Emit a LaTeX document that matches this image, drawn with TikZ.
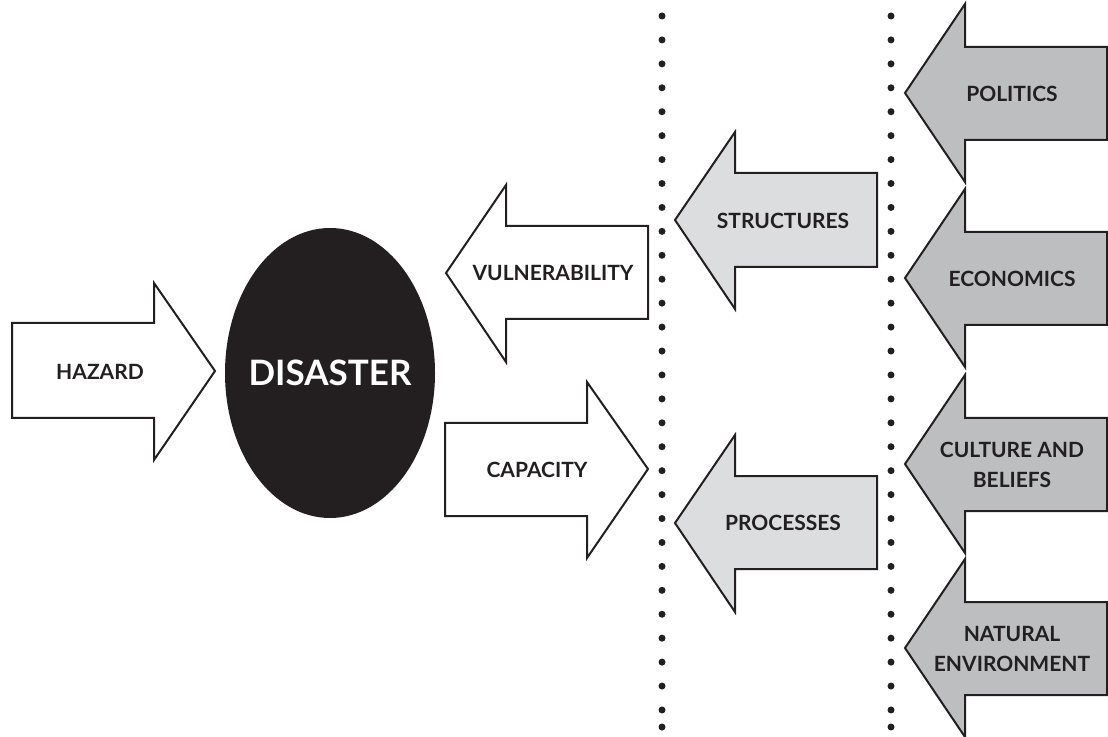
\documentclass[tikz,border=0pt]{standalone}
\usepackage{fontspec}
\setmainfont{Lato}
\usetikzlibrary{shapes.geometric}
\definecolor{ink}{HTML}{231F20}
\definecolor{lightgrey}{HTML}{DCDDDF}
\definecolor{midgrey}{HTML}{BCBEC0}

\begin{document}
\begin{tikzpicture}[x=0.5pt, y=-0.5pt,
blockarrow/.style={draw=ink, line width=1pt, line join=miter},
whitearrow/.style={blockarrow, fill=white},
innerarrow/.style={blockarrow, fill=lightgrey},
outerarrow/.style={blockarrow, fill=midgrey},
caption/.style={text=ink, font=\bfseries\fontsize{10.5}{15}\selectfont, align=center, inner sep=0pt},
dot/.style={fill=ink}
]
\useasboundingbox (0,0) rectangle (1108,737);

% dotted dividers
\foreach \col in {662, 891} {
  \foreach \i in {0,...,29}
    \fill[dot] (\col,16+23.93*\i) circle[radius=1.75pt];
  \fill[dot] (\col,727) circle[radius=1.75pt];
}

% hazard and disaster
\draw[whitearrow] (12,323) -- (154,323) -- (154,283) -- (215,371)
    -- (154,460) -- (154,418) -- (12,418) -- cycle;
\node[caption] (hazard) at (100,372) {HAZARD};
\node[ellipse, fill=ink, inner sep=0pt, minimum width=105pt, minimum height=145pt,
    text=white, font=\bfseries\fontsize{17.5}{20}\selectfont] (disaster) at (330,373)
    {\makebox[0pt]{DISASTER}};

% vulnerability and capacity
\draw[whitearrow] (648,226) -- (506,226) -- (506,185) -- (446,273)
    -- (506,362) -- (506,319) -- (648,319) -- cycle;
\node[caption] (vulnerability) at (553,273) {VULNERABILITY};
\draw[whitearrow] (445,423) -- (587,423) -- (587,382) -- (648,469)
    -- (587,558) -- (587,516) -- (445,516) -- cycle;
\node[caption] (capacity) at (537,470) {CAPACITY};

% structures and processes
\draw[innerarrow] (877,173) -- (735,173) -- (735,132) -- (675,220)
    -- (735,309) -- (735,267) -- (877,267) -- cycle;
\node[caption] (structures) at (783,221) {STRUCTURES};
\draw[innerarrow] (877,476) -- (735,476) -- (735,435) -- (675,523)
    -- (735,612) -- (735,569) -- (877,569) -- cycle;
\node[caption] (processes) at (783,523) {PROCESSES};

% root causes
\foreach \tip/\name/\txt in {93/politics/POLITICS, 278/economics/ECONOMICS,
    464/culture/{CULTURE AND\\BELIEFS}, 648/natural/{NATURAL\\ENVIRONMENT}} {
  \draw[outerarrow] (1107,\tip-46) -- (965,\tip-46) -- (965,\tip-89) -- (905,\tip)
      -- (965,\tip+89) -- (965,\tip+47) -- (1107,\tip+47) -- cycle;
  \node[caption] (\name) at (1012,\tip+1) {\txt};
}
\end{tikzpicture}
\end{document}
